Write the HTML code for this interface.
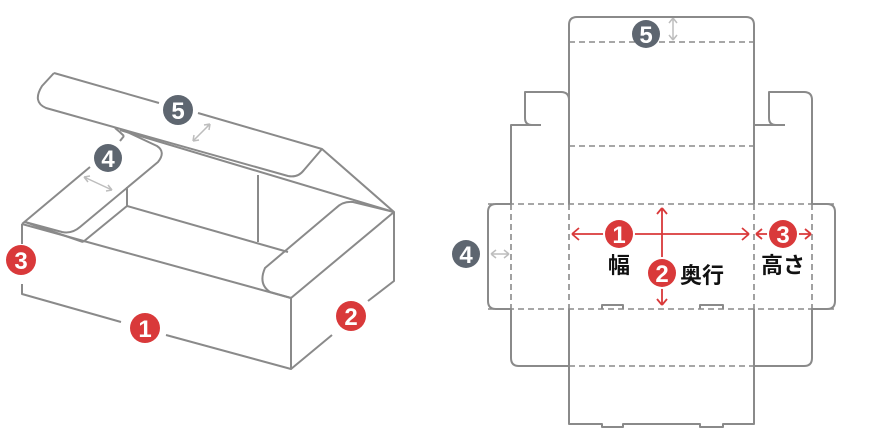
<!DOCTYPE html>
<html><head><meta charset="utf-8"><style>
html,body{margin:0;padding:0;background:#fff;}
svg{display:block;}
text{font-family:"Liberation Sans","Noto Sans CJK JP",sans-serif;font-weight:bold;}
</style></head><body>
<svg width="892" height="444" viewBox="0 0 892 444" xmlns="http://www.w3.org/2000/svg">
<g fill="none" stroke="#8a8a8a" stroke-width="2" stroke-linejoin="round">
<path d="M22,224 L22,244 M22,284 L22,294 L121,322 M166,335 L291,369 L291,298 L22,224"/>
<path d="M291,369 L332,335 M368,301 L394,281 L394,212 L291,298"/>
<path d="M25,222 L83,242"/>
<path d="M22,224 L90,167 M120,141 L124,136"/>
<path d="M25,222 L62,232 Q72,234 80,227 L158,162 Q166,152 157,146 L125,131"/>
<path d="M83,242 L127,206 L127,187"/>
<path d="M127,206 L288,252"/>
<path d="M258,175 L258,242"/>
<path d="M394,212 L353,202 Q343,201 336,208 L265,268 Q258,284 270,292 L291,298"/>
<path d="M54,73 L159,103 M198,113 L322,149 L394,212"/>
<path d="M54,73 L42,86 Q32,102 46,108 L288,176 Q298,178 304,170 L322,149"/>
<path d="M120,130 L394,212"/>
<path d="M115,128 Q120,132 124,136"/>
</g>
<g stroke="#bdbdbd" stroke-width="1.5" fill="none">
<path d="M193,141 L210,124 M193,141 l1,-6 M193,141 l6,-1 M210,124 l-1,6 M210,124 l-6,1"/>
<path d="M84,177 L112,190 M84,177 l4,5 M84,177 l6,-1 M112,190 l-6,1 M112,190 l-4,-5"/>
<path d="M491,254 L509,254 M491,254 l5,-4 M491,254 l5,4 M509,254 l-5,-4 M509,254 l-5,4"/>
<path d="M673,18 L673,40 M673,18 l-4,5 M673,18 l4,5 M673,40 l-4,-5 M673,40 l4,-5"/>
</g>
<g fill="none" stroke="#8a8a8a" stroke-width="2" stroke-linejoin="round">
<path d="M569,204 L569,25 Q569,17 577,17 L746,17 Q754,17 754,25 L754,204"/>
<path d="M569,309 L569,424 L602,424 L602,427 L623,427 L623,424 L700,424 L700,427 L723,427 L723,424 L754,424 L754,309"/>
<path d="M569,204 L569,100 Q569,92 561,92 L525,92 L525,118 Q525,125 532,125 L541,125 M531,125 L511,125 L511,204"/>
<path d="M754,204 L754,125 L785,125 M776,125 Q769,125 769,118 L769,92 L804,92 Q812,92 812,100 L812,204"/>
<path d="M511,204 L496,204 Q488,204 488,212 L488,301 Q488,309 496,309 L511,309 L511,358 Q511,366 519,366 L569,366"/>
<path d="M812,204 L827,204 Q835,204 835,212 L835,301 Q835,309 827,309 L812,309 L812,358 Q812,366 804,366 L754,366"/>
<path d="M602,309 L602,305 L623,305 L623,309 M700,309 L700,305 L723,305 L723,309"/>
</g>
<g fill="none" stroke="#8a8a8a" stroke-width="1.6" stroke-dasharray="6,4">
<path d="M569,42 L754,42 M569,146 L754,146 M488,204 L835,204 M488,309 L835,309 M569,366 L754,366"/>
<path d="M511,204 L511,309 M569,204 L569,309 M754,204 L754,309 M812,204 L812,309"/>
</g>
<g fill="none" stroke="#d9393a" stroke-width="1.8">
<path d="M572,234 L749,234 M572,234 l7,-6 M572,234 l7,6 M749,234 l-7,-6 M749,234 l-7,6"/>
<path d="M756,234 L811,234 M756,234 l6,-5 M756,234 l6,5 M811,234 l-6,-5 M811,234 l-6,5"/>
<path d="M662,208 L662,305 M662,208 l-5,6 M662,208 l5,6 M662,305 l-5,-6 M662,305 l5,-6"/>
</g>
<g fill="#fff">
<circle cx="619" cy="234" r="16"/><circle cx="783" cy="234" r="16"/><circle cx="662" cy="273" r="16"/>
</g>
<g font-size="24" text-anchor="middle" fill="#fff">
<circle cx="178" cy="110" r="15" fill="#5e6670"/><text x="178" y="119">5</text>
<circle cx="108" cy="158" r="14" fill="#5e6670"/><text x="108" y="167">4</text>
<circle cx="21" cy="260" r="15" fill="#d9393a"/><text x="21" y="269">3</text>
<circle cx="145" cy="328" r="15" fill="#d9393a"/><text x="145" y="337">1</text>
<circle cx="351" cy="316" r="15" fill="#d9393a"/><text x="351" y="325">2</text>
<circle cx="646" cy="34" r="14" fill="#5e6670"/><text x="646" y="43">5</text>
<circle cx="466" cy="254" r="14" fill="#5e6670"/><text x="466" y="263">4</text>
<circle cx="619" cy="234" r="14" fill="#d9393a"/><text x="619" y="243">1</text>
<circle cx="783" cy="234" r="14" fill="#d9393a"/><text x="783" y="243">3</text>
<circle cx="662" cy="273" r="14" fill="#d9393a"/><text x="662" y="282">2</text>
</g>
<g font-size="22" fill="#111">
<text x="619" y="273" text-anchor="middle">幅</text>
<text x="680" y="283">奥行</text>
<text x="783" y="273" text-anchor="middle">高さ</text>
</g>
</svg>
</body></html>
